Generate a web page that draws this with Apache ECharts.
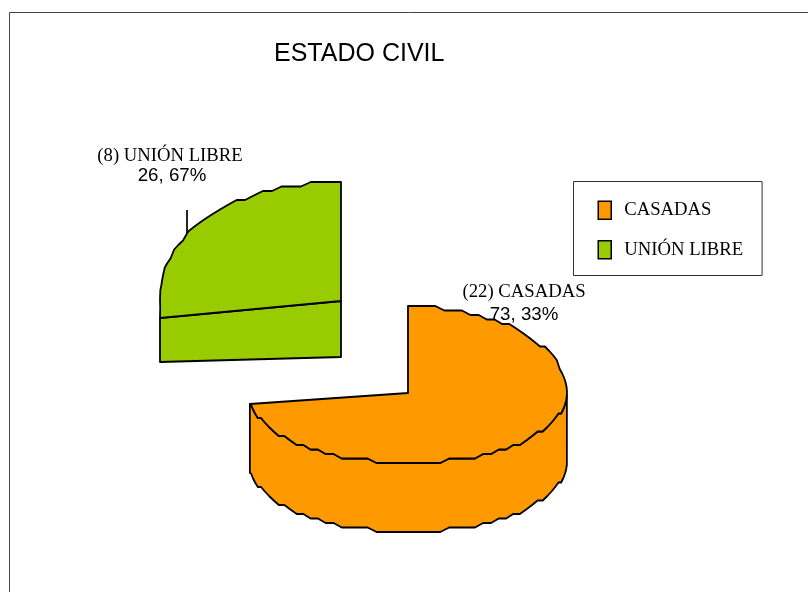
<!DOCTYPE html>
<html><head><meta charset="utf-8">
<style>html,body{margin:0;padding:0;background:#fff}#c{width:808px;height:592px}</style>
<script src="https://cdn.jsdelivr.net/npm/echarts@6/dist/echarts.min.js"></script>
</head><body><div id="c"></div>
<script>
const titleText = 'ESTADO CIVIL';
const categories = ['CASADAS', 'UNIÓN LIBRE'];
const counts = [22, 8];
const labelLines1 = ['(22) CASADAS', '(8) UNIÓN LIBRE'];
const labelLines2 = ['73, 33%', '26, 67%'];
const colors = ['#FF9900', '#99CC00'];

// Projection of each slice of the tilted, exploded pie
const shapes = [
  {cx:408, cy:393, rx:159, ryUp:87, ryDown:70, bulge:1, depth:69, edgeY:404, wall:'rim',
   lab1:[524,292], lab2:[524,315]},
  {cx:341, cy:301, rx:181, ryUp:119, ryDown:119, bulge:0.9, depthNear:56, depthFar:44, edgeY:318, wall:'cut',
   lab1:[170,156], lab2:[172,176], leader:[187,210,187,240]}
];
const SNAP = 4.5, ARC_STEP = 3.3, total = counts.reduce((a,b)=>a+b,0);

function rimPoint(s, deg){
  const t = deg*Math.PI/180, c = Math.cos(t);
  const k = Math.pow(Math.abs(c), s.bulge) * (c>=0 ? 1 : -1);
  return [s.cx + s.rx*Math.sin(t), s.cy - (c>=0 ? s.ryUp : s.ryDown)*k, c];
}
function snapY(s, p){
  const d = p[1]-s.cy;
  if(p[2]>=0) return s.cy - s.ryUp + Math.round((d+s.ryUp)/SNAP)*SNAP;
  return s.cy + s.ryDown - Math.round((s.ryDown-d)/SNAP)*SNAP;
}
function arc(s, a0, a1){
  const out = [], n = Math.ceil(Math.abs(a1-a0)/ARC_STEP);
  for(let i=0;i<=n;i++){
    const deg = a0+(a1-a0)*i/n, p = rimPoint(s, deg);
    const q = (i===0||i===n) ? [p[0],p[1]] : [p[0], snapY(s,p)];
    q.deg = deg;
    const l = out[out.length-1];
    if(!l || l[0]!==q[0] || l[1]!==q[1]) out.push(q);
  }
  return out;
}
const stroke = {stroke:'#000', lineWidth:1.8, lineJoin:'round'};

function sliceRenderer(i){
  return function(params, api){
    const s = shapes[i], fill = colors[i];
    const prev = counts.slice(0,i).reduce((a,b)=>a+b,0);
    const a0 = prev/total*360, a1 = (prev+api.value(0))/total*360;
    const top = arc(s, a0, a1);
    const edgeIdx = a0===0 ? top.length-1 : 0;
    top[edgeIdx] = [s.cx + s.rx*Math.sin(Math.min(a0===0?a1:a0,270)*Math.PI/180), s.edgeY];
    top[edgeIdx].deg = a0===0 ? a1 : a0;
    const kids = [];
    if(s.leader) kids.push({type:'line',shape:{x1:s.leader[0],y1:s.leader[1],x2:s.leader[2],y2:s.leader[3]},style:{stroke:'#000',lineWidth:1.7}});
    if(s.wall==='rim'){
      const rim = top.filter(p=>p.deg>=90);
      const low = rim.map(p=>[p[0],p[1]+s.depth]).reverse();
      kids.push({type:'polygon',shape:{points:rim.concat(low)},style:Object.assign({fill},stroke)});
      kids.push({type:'polygon',shape:{points:[[s.cx,s.cy]].concat(top)},style:Object.assign({fill},stroke)});
    } else {
      const e = top[edgeIdx];
      e[0] = s.cx - s.rx;
      kids.push({type:'polygon',shape:{points:[[s.cx,s.cy],e,[e[0],e[1]+s.depthFar],[s.cx,s.cy+s.depthNear]]},style:Object.assign({fill},stroke)});
      kids.push({type:'polygon',shape:{points:[[s.cx,s.cy]].concat(top)},style:Object.assign({fill},stroke)});
    }
    kids.push({type:'text',z2:50,style:{x:s.lab1[0],y:s.lab1[1],text:labelLines1[i],font:'18.7px "Liberation Serif"',fill:'#000',align:'center',verticalAlign:'middle'}});
    kids.push({type:'text',z2:50,style:{x:s.lab2[0],y:s.lab2[1],text:labelLines2[i],font:'18.7px "Liberation Sans"',fill:'#000',align:'center',verticalAlign:'middle'}});
    return {type:'group',children:kids};
  };
}

const chart = echarts.init(document.getElementById('c'), null, {renderer:'canvas'});
chart.setOption({
  animation:false,
  backgroundColor:'#fff',
  title:{text:titleText,left:274,top:42,padding:0,textStyle:{fontFamily:'Liberation Sans',fontSize:25,fontWeight:'normal',color:'#000'}},
  legend:{
    left:573.5, top:181.5, orient:'vertical', icon:'rect', itemWidth:13, itemHeight:18, itemGap:20,
    padding:[19,19,16,24], borderColor:'#333', borderWidth:1, selectedMode:false,
    textStyle:{fontFamily:'Liberation Serif',fontSize:18.7,color:'#000',padding:[2,0,0,8]},
    itemStyle:{borderColor:'#000',borderWidth:1.5},
    data:categories
  },
  graphic:[{type:'polyline',silent:true,shape:{points:[[9.5,592],[9.5,12.5],[808,12.5]]},style:{stroke:'#444',lineWidth:1,fill:null}}],
  series:categories.map((name,i)=>({
    type:'custom', name, coordinateSystem:'none', silent:true,
    itemStyle:{color:colors[i]},
    renderItem:sliceRenderer(i), data:[counts[i]]
  }))
});
</script></body></html>
